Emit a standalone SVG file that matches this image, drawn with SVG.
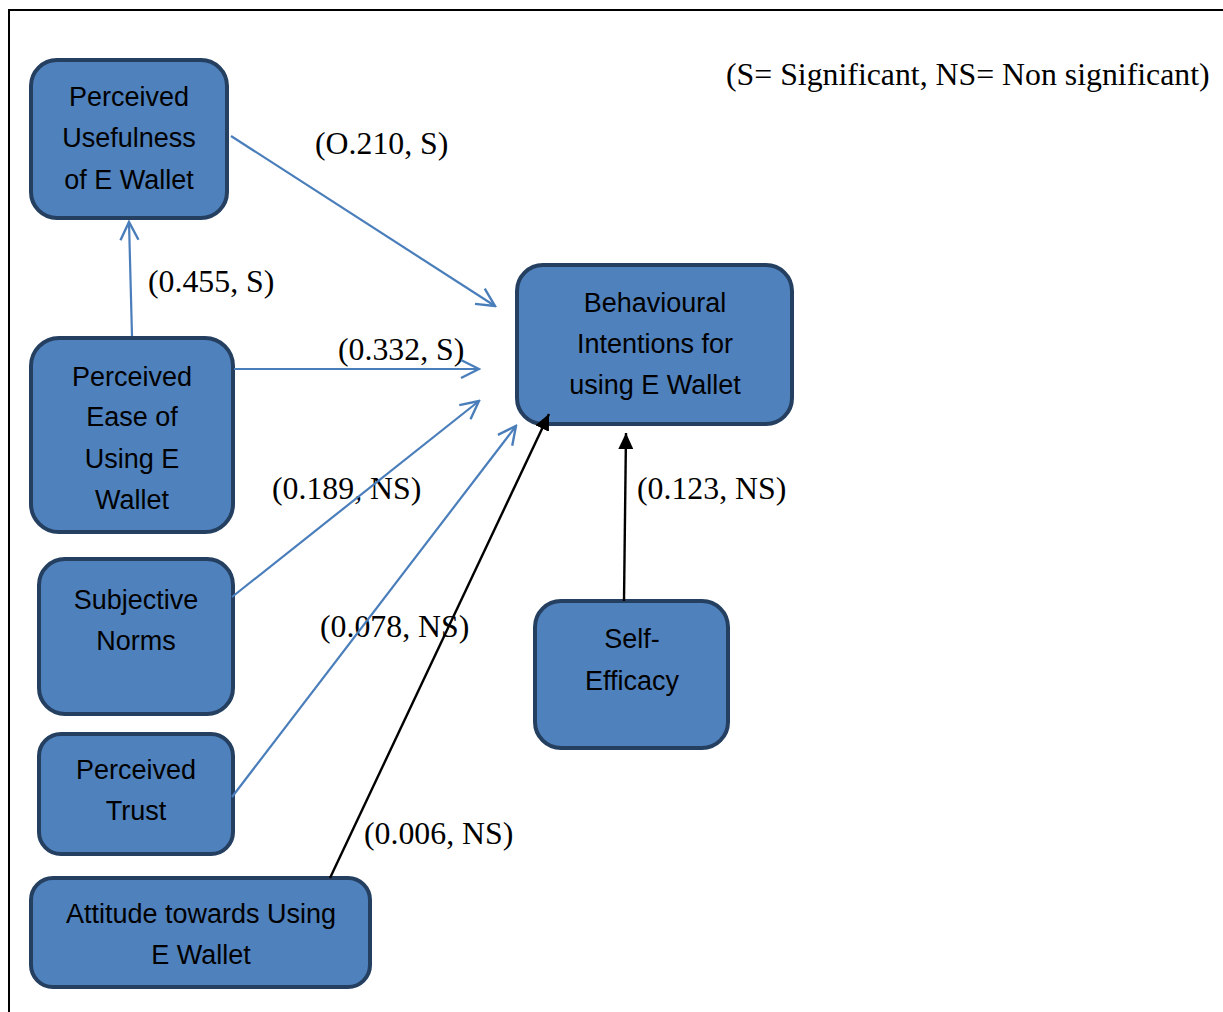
<svg xmlns="http://www.w3.org/2000/svg" width="1223" height="1012" viewBox="0 0 1223 1012">
<defs>
<style>
.node rect{fill:#4F81BD;stroke:#243F60;stroke-width:4}
.node text{font-family:"Liberation Sans",Arial,sans-serif;font-size:27px;fill:#000;text-anchor:middle}
.lbl{font-family:"Liberation Serif","Times New Roman",serif;font-size:31.8px;fill:#000}
.blue{stroke:#4A7EBB;stroke-width:2.2;fill:none}
.black{stroke:#000;stroke-width:2.4;fill:none}
</style>
<marker id="open" viewBox="0 0 22 22" refX="20" refY="11" markerWidth="22" markerHeight="22" markerUnits="userSpaceOnUse" orient="auto">
<path d="M2,2 L20,11 L2,20" fill="none" stroke="#4A7EBB" stroke-width="2.4"/>
</marker>
<marker id="solid" viewBox="0 0 16 16" refX="16" refY="8" markerWidth="16" markerHeight="16" markerUnits="userSpaceOnUse" orient="auto">
<path d="M0,0.5 L16,8 L0,15.5 Z" fill="#000"/>
</marker>
</defs>
<rect width="1223" height="1012" fill="#fff"/>
<path d="M9,1012 V10 H1223" fill="none" stroke="#000" stroke-width="2"/>

<g id="labels">
<text class="lbl" x="726" y="85">(S= Significant, NS= Non significant)</text>
<text class="lbl" x="315" y="154">(O.210, S)</text>
<text class="lbl" x="148" y="292">(0.455, S)</text>
<text class="lbl" x="338" y="360">(0.332, S)</text>
<text class="lbl" x="272" y="499">(0.189, NS)</text>
<text class="lbl" x="320" y="637">(0.078, NS)</text>
<text class="lbl" x="637" y="499">(0.123, NS)</text>
<text class="lbl" x="364" y="844">(0.006, NS)</text>
</g>

<g id="n-pu" class="node">
<rect x="31" y="60" width="196" height="158" rx="26"/>
<text x="129" y="106">Perceived</text>
<text x="129" y="147">Usefulness</text>
<text x="129" y="189">of E Wallet</text>
</g>
<g id="n-peou" class="node">
<rect x="31" y="338" width="202" height="194" rx="28"/>
<text x="132" y="386">Perceived</text>
<text x="132" y="426">Ease of</text>
<text x="132" y="468">Using E</text>
<text x="132" y="509">Wallet</text>
</g>
<g id="n-sn" class="node">
<rect x="39" y="559" width="194" height="155" rx="26"/>
<text x="136" y="609">Subjective</text>
<text x="136" y="650">Norms</text>
</g>
<g id="n-pt" class="node">
<rect x="39" y="734" width="194" height="120" rx="22"/>
<text x="136" y="779">Perceived</text>
<text x="136" y="820">Trust</text>
</g>
<g id="n-att" class="node">
<rect x="31" y="878" width="339" height="109" rx="22"/>
<text x="201" y="923">Attitude towards Using</text>
<text x="201" y="964">E Wallet</text>
</g>
<g id="n-bi" class="node">
<rect x="517" y="265" width="275" height="159" rx="26"/>
<text x="655" y="312">Behavioural</text>
<text x="655" y="353">Intentions for</text>
<text x="655" y="394">using E Wallet</text>
</g>
<g id="n-se" class="node">
<rect x="535" y="601" width="193" height="147" rx="26"/>
<text x="632" y="648">Self-</text>
<text x="632" y="690">Efficacy</text>
</g>

<g id="connectors">
<line class="blue" x1="231" y1="136" x2="495" y2="306" marker-end="url(#open)"/>
<line class="blue" x1="132" y1="336" x2="129" y2="222" marker-end="url(#open)"/>
<line class="blue" x1="234" y1="369" x2="479" y2="369" marker-end="url(#open)"/>
<line class="blue" x1="232" y1="597" x2="479" y2="401" marker-end="url(#open)"/>
<line class="blue" x1="232" y1="797" x2="516" y2="426" marker-end="url(#open)"/>
<line class="black" x1="330" y1="878" x2="549" y2="414" marker-end="url(#solid)"/>
<line class="black" x1="624" y1="601" x2="626" y2="433" marker-end="url(#solid)"/>
</g>
</svg>
